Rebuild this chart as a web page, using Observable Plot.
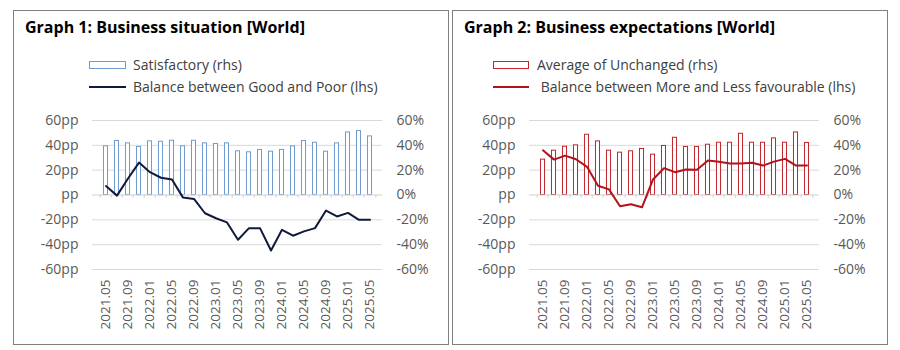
<!DOCTYPE html>
<html>
<head>
<meta charset="utf-8">
<script src="https://cdn.jsdelivr.net/npm/d3@7"></script>
<script src="https://cdn.jsdelivr.net/npm/@observablehq/plot@0.6"></script>
<style>
  body { margin: 0; background: #fff; width: 900px; height: 350px; position: relative; overflow: hidden; font-family: "Open Sans", sans-serif; }
  .panel { position: absolute; top: 10px; width: 434px; height: 333px; border: 1px solid #7f7f7f; box-sizing: content-box; }
  .title { position: absolute; top: 5px; left: 11px; font-family: "Open Sans", sans-serif; font-weight: bold; font-size: 16px; color: #000; white-space: nowrap; }
  .leg { position: absolute; font-size: 14px; color: #404040; white-space: nowrap; display: flex; align-items: center; }
  .leg svg { margin-right: 7px; }
  .chart { position: absolute; left: 0; top: 89px; }
</style>
</head>
<body>
<div class="panel" id="p1" style="left:13px;">
  <div class="title">Graph 1: Business situation [World]</div>
  <div class="leg" style="left:75px; top:44px;"><svg width="37" height="10"><rect x="0.5" y="1.5" width="36" height="7" fill="#fff" stroke="#6f9bd1"/></svg>Satisfactory (rhs)</div>
  <div class="leg" style="left:75px; top:66px;"><svg width="37" height="10"><line x1="0" x2="37" y1="5" y2="5" stroke="#0f1a3c" stroke-width="2"/></svg>Balance between Good and Poor (lhs)</div>
  <div class="chart" id="c1"></div>
</div>
<div class="panel" id="p2" style="left:452px;">
  <div class="title">Graph 2: Business expectations [World]</div>
  <div class="leg" style="left:40px; top:44px;"><svg width="37" height="10"><rect x="0.5" y="1.5" width="35" height="7" fill="#fff" stroke="#c0262c"/></svg>Average of Unchanged (rhs)</div>
  <div class="leg" style="left:40px; top:66px;"><svg width="37" height="10"><line x1="0" x2="36" y1="5" y2="5" stroke="#b3121b" stroke-width="2"/></svg>&nbsp;Balance between More and Less favourable (lhs)</div>
  <div class="chart" id="c2"></div>
</div>
<script>
const dates = ["2021.05","2021.07","2021.09","2021.11","2022.01","2022.03","2022.05","2022.07","2022.09","2022.11",
               "2023.01","2023.03","2023.05","2023.07","2023.09","2023.11","2024.01","2024.03","2024.05","2024.07",
               "2024.09","2024.11","2025.01","2025.03","2025.05"];
const tickLabels = ["2021.05","2021.09","2022.01","2022.05","2022.09","2023.01","2023.05","2023.09","2024.01","2024.05","2024.09","2025.01","2025.05"];
const yTicks = [-60, -40, -20, 0, 20, 40, 60];

// Graph 1
const satisfactory = [39.2, 43.5, 41.6, 38.7, 43.2, 42.9, 43.7, 39.2, 43.7, 41.6, 41.1, 41.6, 35.2, 34.4, 36.3, 34.9, 36.3, 39.2, 43.5, 42.1, 34.9, 41.6, 50.4, 51.5, 47.2];
const balanceGoodPoor = [7.2, -0.5, 13.3, 26.1, 18.4, 13.9, 12.5, -2.1, -3.2, -14.7, -18.7, -22.1, -36.0, -26.7, -26.7, -44.7, -28.0, -32.8, -29.3, -26.7, -12.5, -17.3, -14.4, -20.0, -20.0];

// Graph 2
const unchanged = [28.5, 35.7, 38.9, 40.0, 48.5, 43.2, 35.7, 34.1, 35.2, 37.1, 32.5, 39.5, 46.1, 38.7, 38.7, 40.5, 42.1, 42.1, 49.3, 42.1, 42.1, 45.6, 42.1, 50.4, 41.9];
const balanceMoreLess = [36.0, 28.5, 31.7, 28.8, 22.7, 7.5, 4.5, -9.1, -7.5, -9.9, 12.5, 21.6, 18.4, 20.5, 20.3, 27.7, 26.7, 25.3, 25.3, 25.9, 23.7, 26.9, 29.1, 23.7, 23.7];

function chart(bars, line, barColor, lineColor, ml, mr) {
  const data = dates.map((d, i) => ({d, b: bars[i], l: line[i]}));
  const W = 434;
  const band = (W - ml - mr) / dates.length;
  return Plot.plot({
    width: W, height: 235,
    marginLeft: ml, marginRight: mr, marginTop: 20, marginBottom: 66,
    style: {fontFamily: "Open Sans, sans-serif", background: "transparent", color: "#595959"},
    x: {type: "band", domain: dates, padding: 0, axis: null},
    y: {domain: [-60, 60], axis: null},
    marks: [
      Plot.ruleY(yTicks.filter(v => v !== 0), {stroke: "#d9d9d9", strokeWidth: 1}),
      Plot.barY(data, {x: "d", y: "b", fill: "#fff", stroke: barColor, strokeWidth: 1, insetLeft: band * 0.3, insetRight: band * 0.3}),
      Plot.ruleY([0], {stroke: "#d0d0d0", strokeWidth: 1}),
      Plot.ruleX(dates, {x: d => d, y1: 0, y2: -2.6, dx: -band / 2, stroke: "#d0d0d0"}),
      Plot.ruleX(dates.slice(-1), {x: d => d, y1: 0, y2: -2.6, dx: band / 2, stroke: "#d0d0d0"}),
      Plot.line(data, {x: "d", y: "l", stroke: lineColor, strokeWidth: 2}),
      Plot.axisY(yTicks, {anchor: "left", tickSize: 0, tickPadding: 14, label: null, fontSize: 14, fill: "#595959",
        tickFormat: v => v === 0 ? "pp" : `${v}pp`}),
      Plot.axisY(yTicks, {anchor: "right", tickSize: 0, tickPadding: 14, label: null, fontSize: 14, fill: "#595959",
        tickFormat: v => `${v}%`}),
      Plot.axisX(tickLabels, {anchor: "bottom", tickSize: 0, tickPadding: 10, tickRotate: -90, label: null, fontSize: 13.5, fill: "#595959"})
    ]
  });
}

document.getElementById("c1").appendChild(chart(satisfactory, balanceGoodPoor, "#6f9bd1", "#0f1a3c", 78, 66));
document.getElementById("c2").appendChild(chart(unchanged, balanceMoreLess, "#c0262c", "#b3121b", 76, 68));
</script>
</body>
</html>
